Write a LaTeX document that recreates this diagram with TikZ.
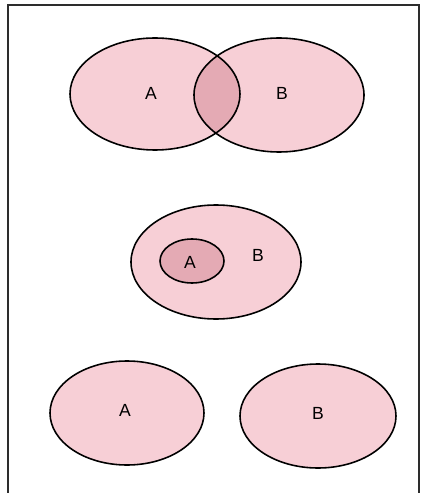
\documentclass[tikz,border=0pt]{standalone}
\usepackage{fontspec}
\setmainfont{Liberation Sans}
\definecolor{vennpink}{RGB}{247,207,214}
\definecolor{vennrose}{RGB}{228,170,180}
\definecolor{framegray}{RGB}{45,45,45}
\begin{document}
\begin{tikzpicture}[x=0.02cm, y=-0.02cm, line width=0.9pt]
    \useasboundingbox (0,0) rectangle (426,493);

    % frame (open at the bottom)
    \draw[framegray, line width=1.1pt] (8,493) -- (8,5) -- (419,5) -- (419,493);

    % top: A and B overlapping
    \fill[vennpink] (155,94) ellipse (85 and 56);
    \fill[vennpink] (279,95) ellipse (85 and 57);
    \begin{scope}
        \clip (155,94) ellipse (85 and 56);
        \fill[vennrose] (279,95) ellipse (85 and 57);
    \end{scope}
    \draw (155,94) ellipse (85 and 56);
    \draw (279,95) ellipse (85 and 57);
    \node at (151,93) {A};
    \node at (282,93) {B};

    % middle: A inside B
    \draw[fill=vennpink] (216,262) ellipse (85 and 57);
    \draw[fill=vennrose] (192,261) ellipse (32 and 22);
    \node at (190,262) {A};
    \node at (258,255) {B};

    % bottom: A and B apart
    \draw[fill=vennpink] (127,413) ellipse (77 and 52);
    \draw[fill=vennpink] (318,416) ellipse (78 and 52);
    \node at (125,410) {A};
    \node at (318,413) {B};
\end{tikzpicture}
\end{document}
